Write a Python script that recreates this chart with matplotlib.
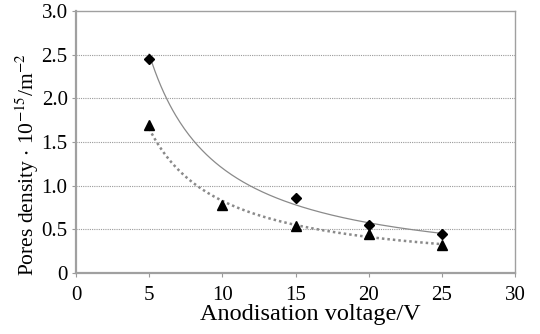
import numpy as np
import matplotlib.pyplot as plt

plt.rcParams['font.family'] = ['Liberation Serif', 'DejaVu Serif']
plt.rcParams['mathtext.fontset'] = 'stix'

# anodisation voltage (V) and measured pore densities
voltage_a = [5, 15, 20, 25]
density_a = [2.45, 0.855, 0.55, 0.443]
voltage_b = [5, 10, 15, 20, 25]
density_b = [1.70, 0.78, 0.54, 0.447, 0.32]

x_ticks = [0, 5, 10, 15, 20, 25, 30]
y_ticks = [0, 0.5, 1.0, 1.5, 2.0, 2.5, 3.0]
y_tick_labels = ['0', '0.5', '1.0', '1.5', '2.0', '2.5', '3.0']


def power_fit(x, y):
    # power-law trendline y = a * x**b fitted in log space
    b, ln_a = np.polyfit(np.log(x), np.log(y), 1)
    xs = np.linspace(min(x), max(x), 200)
    return xs, np.exp(ln_a) * xs ** b


fig = plt.figure(figsize=(5.4, 3.34), dpi=100)
ax = fig.add_axes([76 / 540, 1 - 273 / 334, (515 - 76) / 540, (273 - 11) / 334])

for y in y_ticks[1:-1]:
    ax.axhline(y, color='#9a9a9a', lw=0.8, ls=(0, (1, 1)), zorder=0)

xs, ys = power_fit(voltage_a, density_a)
ax.plot(xs, ys, color='#8a8a8a', lw=0.9, zorder=2)
xs, ys = power_fit(voltage_b, density_b)
ax.plot(xs, ys, color='#8a8a8a', lw=1.8, ls=(0, (1, 1.2)), zorder=2)

ax.plot(voltage_a, density_a, 'D', color='black', ms=5, zorder=3)
ax.plot(voltage_b, density_b, '^', color='black', ms=6.5, zorder=3)

ax.set_xlim(0, 30)
ax.set_ylim(0, 3.0)
ax.set_xticks(x_ticks)
ax.set_yticks(y_ticks)
ax.set_yticklabels(y_tick_labels)
ax.tick_params(labelsize=15, length=3, width=0.8, color='#9a9a9a')
ax.tick_params(axis='x', pad=6)
ax.tick_params(axis='y', pad=3)

for side in ['top', 'right']:
    ax.spines[side].set_color('#a0a0a0')
    ax.spines[side].set_linewidth(1.0)
for side in ['left', 'bottom']:
    ax.spines[side].set_color('#a0a0a0')
    ax.spines[side].set_linewidth(1.6)

ax.set_xlabel('Anodisation voltage/V', fontsize=17.5)
ax.xaxis.set_label_coords(0.533, -0.118)
ax.set_ylabel(r'Pores density $\cdot$ 10$^{-15}$/m$^{-2}$', fontsize=15.5)
ax.yaxis.set_label_coords(-0.08, 0.412)

fig.savefig('out.png', dpi=100)
